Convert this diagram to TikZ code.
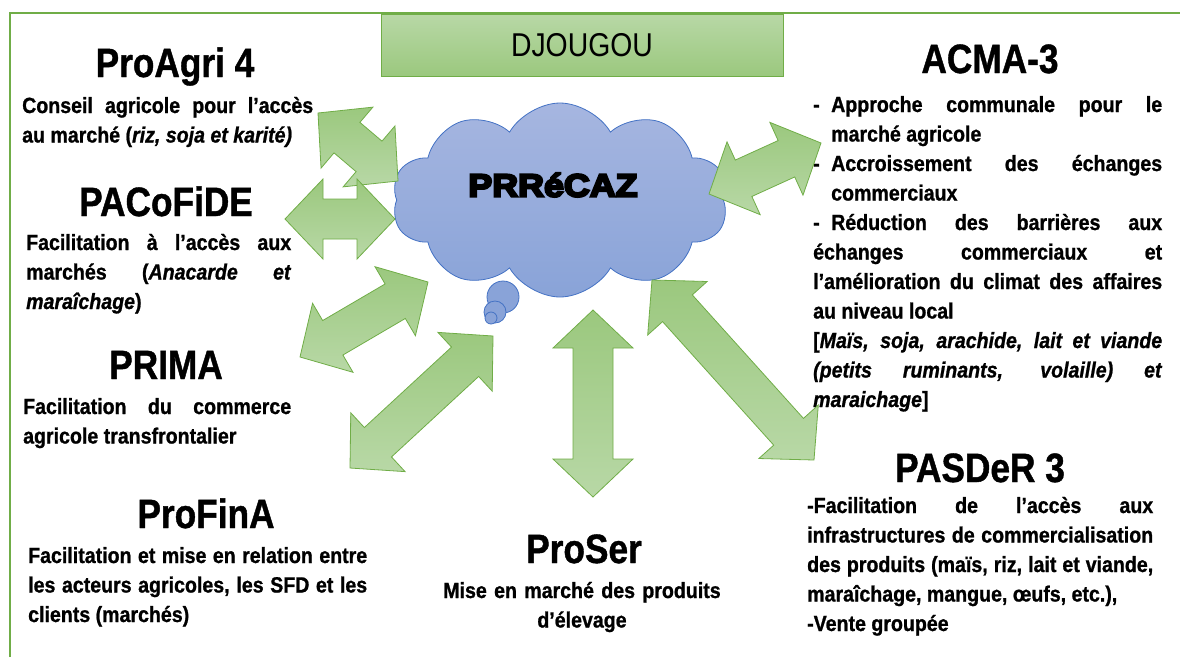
\documentclass[tikz,border=0pt]{standalone}
\usepackage{fontspec}
\setmainfont{Liberation Sans}[FakeStretch=0.89,FakeBold=1]
\newfontfamily\headfont{Liberation Sans}[FakeStretch=0.86,FakeBold=1]
\newfontfamily\plainfont{Liberation Sans}[FakeStretch=0.86]
\newfontfamily\cloudfont{Liberation Sans}[FakeStretch=1.12,FakeBold=7]
\usetikzlibrary{shapes.symbols}
\usetikzlibrary{calc}

\definecolor{framegreen}{RGB}{112,173,71}
\definecolor{greenlight}{RGB}{184,216,166}
\definecolor{greendark}{RGB}{155,200,126}
\definecolor{cloudtop}{RGB}{166,182,224}
\definecolor{cloudbot}{RGB}{137,163,216}
\definecolor{cloudline}{RGB}{68,114,196}

\tolerance=10000
\hyphenpenalty=10000

% double block arrow between two named points
\newcommand{\dblarrow}[2]{%
  \draw[blockarrow] (#1) -- ($(#1)!38pt!(#2)!40pt!90:(#2)$) -- ($(#1)!38pt!(#2)!20pt!90:(#2)$)
    -- ($(#2)!38pt!(#1)!20pt!-90:(#1)$) -- ($(#2)!38pt!(#1)!40pt!-90:(#1)$) -- (#2)
    -- ($(#2)!38pt!(#1)!40pt!90:(#1)$) -- ($(#2)!38pt!(#1)!20pt!90:(#1)$)
    -- ($(#1)!38pt!(#2)!20pt!-90:(#2)$) -- ($(#1)!38pt!(#2)!40pt!-90:(#2)$) -- cycle;}

\begin{document}
\begin{tikzpicture}[x=1pt, y=-1pt,
    progtitle/.style={font=\headfont\bfseries\fontsize{41}{41}\selectfont, inner sep=0pt, anchor=base},
    progtext/.style={font=\bfseries\fontsize{22}{29.5}\selectfont, inner sep=0pt, anchor=base west, align=justify},
    blockarrow/.style={draw=framegreen, line width=0.8pt, top color=greendark, bottom color=greenlight},
    bubble/.style={circle, draw=cloudline, line width=0.8pt, fill=cloudbot, inner sep=0pt}]
  \useasboundingbox (0,0) rectangle (1180,657);
  \draw[framegreen, line width=2pt] (10,657) -- (10,13) -- (1180,13);

  \node[draw=framegreen, line width=0.8pt, top color=greenlight, bottom color=greendark,
        minimum width=402pt, minimum height=62pt, inner sep=0pt,
        font=\plainfont\fontsize{33}{33}\selectfont] (djougou) at (582,45) {DJOUGOU};

  % the cloud
  \node[cloud, cloud puffs=10, cloud puff arc=120, aspect=1.7, draw=cloudline, line width=0.8pt,
        top color=cloudtop, bottom color=cloudbot, minimum width=336pt, minimum height=194pt,
        inner sep=0pt] (prrecaz) at (560,200) {};
  \node[bubble, minimum size=32pt] (bub1) at (503,297) {};
  \node[bubble, minimum size=22pt] (bub2) at (495,312) {};
  \node[bubble, minimum size=12pt] (bub3) at (491,318) {};
  \node[font=\cloudfont\bfseries\fontsize{32}{32}\selectfont] (prrecaztxt) at (553,185) {PRRéCAZ};

  % programmes
  \node[progtitle] (agri) at (175,77) {ProAgri 4};
  \node[progtext, text width=291pt] (agritxt) at (22,113)
    {Conseil agricole pour l’accès\linebreak au marché (\textit{riz, soja et karité)}};
  \node[progtitle] (pacof) at (166,216) {PACoFiDE};
  \node[progtext, text width=265pt] (pacoftxt) at (26,250)
    {Facilitation à l’accès aux\linebreak marchés (\textit{Anacarde et}\linebreak \textit{maraîchage})};
  \node[progtitle] (prima) at (166,379) {PRIMA};
  \node[progtext, text width=268pt] (primatxt) at (23,414)
    {Facilitation du commerce\linebreak agricole transfrontalier};
  \node[progtitle] (profina) at (206,528) {ProFinA};
  \node[progtext, text width=339pt] (profinatxt) at (28,563)
    {Facilitation et mise en relation entre\linebreak les acteurs agricoles, les SFD et les\linebreak clients (marchés)};
  \node[progtitle] (proser) at (584,563) {ProSer};
  \node[progtext, text width=300pt, align=center, anchor=base] (prosertxt) at (582,598)
    {Mise en marché des produits\\d’élevage};
  \node[progtitle] (acma) at (990,73) {ACMA-3};
  \node[progtext, text width=349pt] (acmatxt) at (813,112)
    {\hangindent=18pt \makebox[18pt][l]{-}Approche communale pour le\linebreak marché agricole\par
     \hangindent=18pt \makebox[18pt][l]{-}Accroissement des échanges\linebreak commerciaux\par
     \makebox[18pt][l]{-}Réduction des barrières aux\linebreak échanges commerciaux et\linebreak
     l’amélioration du climat des affaires\linebreak au niveau local\par
     [\textit{Maïs, soja, arachide, lait et viande}\linebreak \textit{(petits ruminants, volaille) et}\linebreak
     \textit{maraichage}]};
  \node[progtitle] (pasder) at (980,482) {PASDeR 3};
  \node[progtext, text width=346pt] (pasdertxt) at (807,513)
    {-Facilitation de l’accès aux\linebreak infrastructures de commercialisation\linebreak
     des produits (maïs, riz, lait et viande,\linebreak maraîchage, mangue, œufs, etc.),\par
     -Vente groupée};

  % arrows
  \coordinate (agri-a) at (318,113);   \coordinate (agri-b) at (398,181);
  \coordinate (pacof-a) at (285,219);  \coordinate (pacof-b) at (395,219);
  \coordinate (prima-a) at (300,357);  \coordinate (prima-b) at (428,282);
  \coordinate (profina-a) at (350,468); \coordinate (profina-b) at (493,336);
  \coordinate (proser-a) at (593,497); \coordinate (proser-b) at (593,310);
  \coordinate (pasder-a) at (814,460); \coordinate (pasder-b) at (652,280);
  \coordinate (acma-a) at (821,143);   \coordinate (acma-b) at (709,194);
  \dblarrow{agri-a}{agri-b}
  \dblarrow{pacof-a}{pacof-b}
  \dblarrow{prima-a}{prima-b}
  \dblarrow{profina-a}{profina-b}
  \dblarrow{proser-a}{proser-b}
  \dblarrow{pasder-a}{pasder-b}
  \dblarrow{acma-a}{acma-b}
\end{tikzpicture}
\end{document}
